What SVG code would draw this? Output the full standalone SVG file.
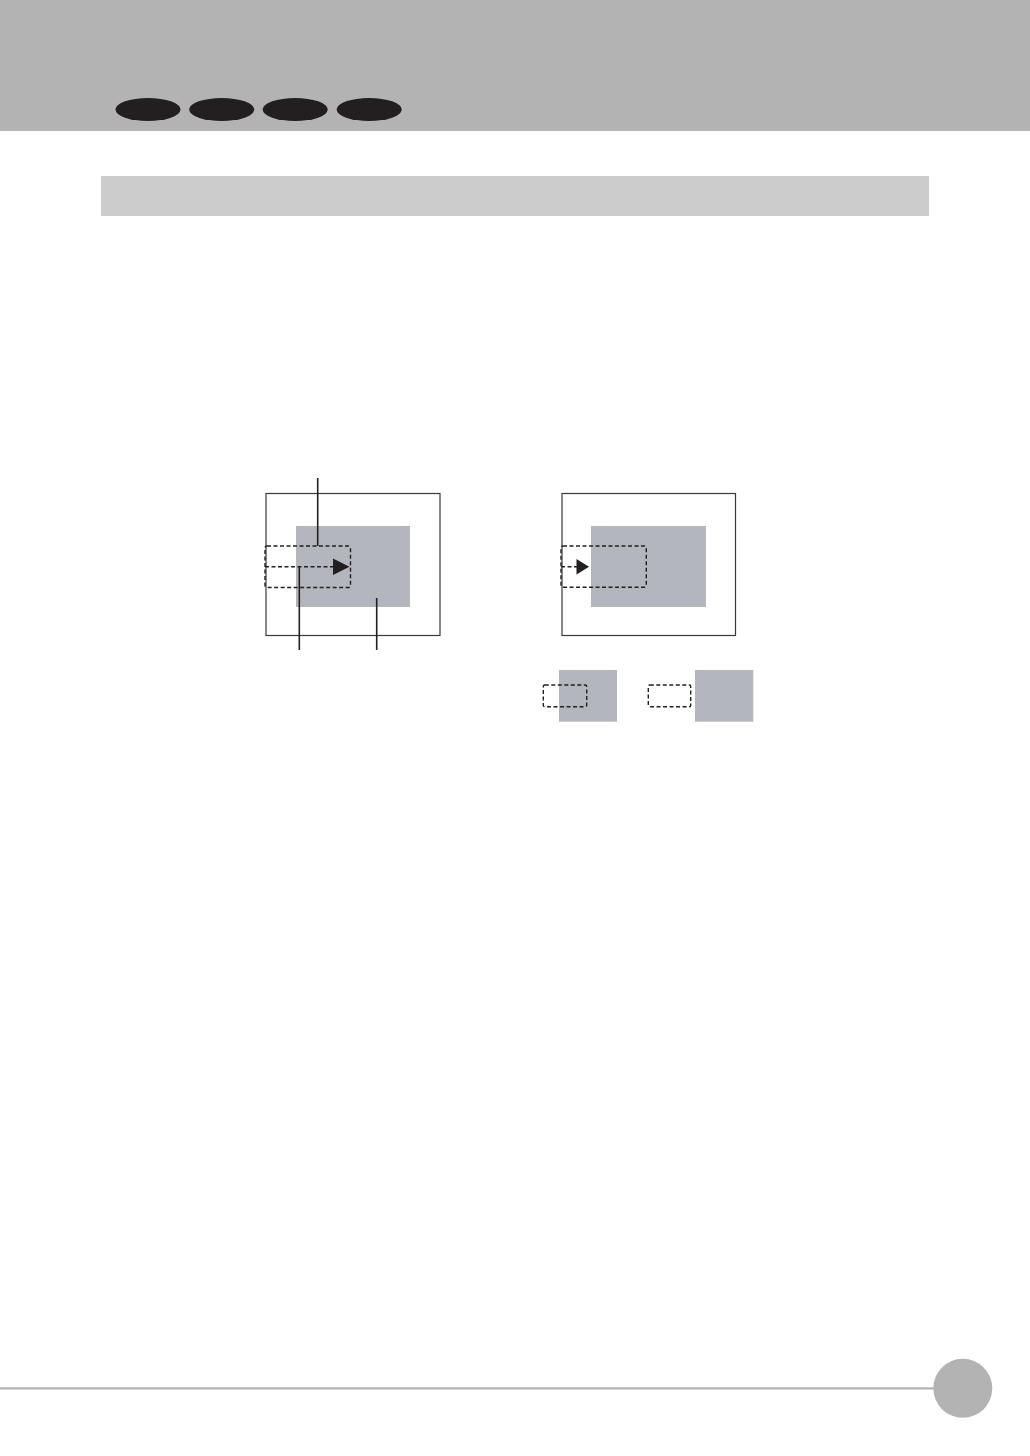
<svg xmlns="http://www.w3.org/2000/svg" width="1030" height="1456" viewBox="0 0 1030 1456">
<style>
.dot{fill:#231f20}
.frame{fill:none;stroke:#3a3a3a;stroke-width:1.2}
.obj{fill:#b3b7bd}
.dash{fill:none;stroke:#231f20;stroke-width:1.4;stroke-dasharray:4 2.5}
.lead{stroke:#231f20;stroke-width:1.6;fill:none}
</style>
<rect x="0" y="0" width="1030" height="131" fill="#b3b3b3"/>
<g id="dots">
<ellipse class="dot" cx="148" cy="109.5" rx="32.5" ry="11.5"/>
<ellipse class="dot" cx="221.7" cy="109.5" rx="32.5" ry="11.5"/>
<ellipse class="dot" cx="295.2" cy="109.5" rx="32.5" ry="11.5"/>
<ellipse class="dot" cx="369.2" cy="109.5" rx="32.5" ry="11.5"/>
</g>
<rect x="101" y="176" width="828" height="40" fill="#cccccc"/>
<g id="left-diagram">
<rect class="frame" x="266" y="493.5" width="174" height="142"/>
<rect class="obj" x="296" y="526" width="114" height="81"/>
<rect class="dash" x="265" y="546" width="85.5" height="41.5" rx="2"/>
<line class="dash" x1="265" y1="566.7" x2="334" y2="566.7"/>
<polygon points="333,558.5 349.5,566.7 333,575" fill="#231f20"/>
</g>
<g id="right-diagram">
<rect class="frame" x="562" y="493.5" width="173.5" height="142" stroke-width="1.5"/>
<rect class="obj" x="591" y="526" width="115" height="81"/>
<rect class="dash" x="561" y="546" width="85.3" height="41.3" rx="2"/>
<line class="dash" x1="561" y1="566.7" x2="577" y2="566.7"/>
<polygon points="576.5,559 589,566.7 576.5,574.5" fill="#231f20"/>
</g>
<g id="small-1">
<rect class="obj" x="559" y="670" width="58" height="51.7"/>
<rect class="dash" x="543.3" y="685" width="43.4" height="21.7" rx="1.5"/>
</g>
<g id="small-2">
<rect class="obj" x="695" y="670" width="58.3" height="51.7"/>
<rect class="dash" x="648.3" y="685" width="42.4" height="21.7" rx="1.5"/>
</g>
<g id="connectors">
<line class="lead" x1="317.7" y1="478" x2="317.7" y2="546"/>
<line class="lead" x1="299.3" y1="567" x2="299.3" y2="650"/>
<line class="lead" x1="376.7" y1="598" x2="376.7" y2="650"/>
</g>
<line x1="0" y1="1388.3" x2="935" y2="1388.3" stroke="#b3b3b3" stroke-width="2.2"/>
<circle cx="962.8" cy="1388.3" r="29.5" fill="#b3b3b3"/>
</svg>
